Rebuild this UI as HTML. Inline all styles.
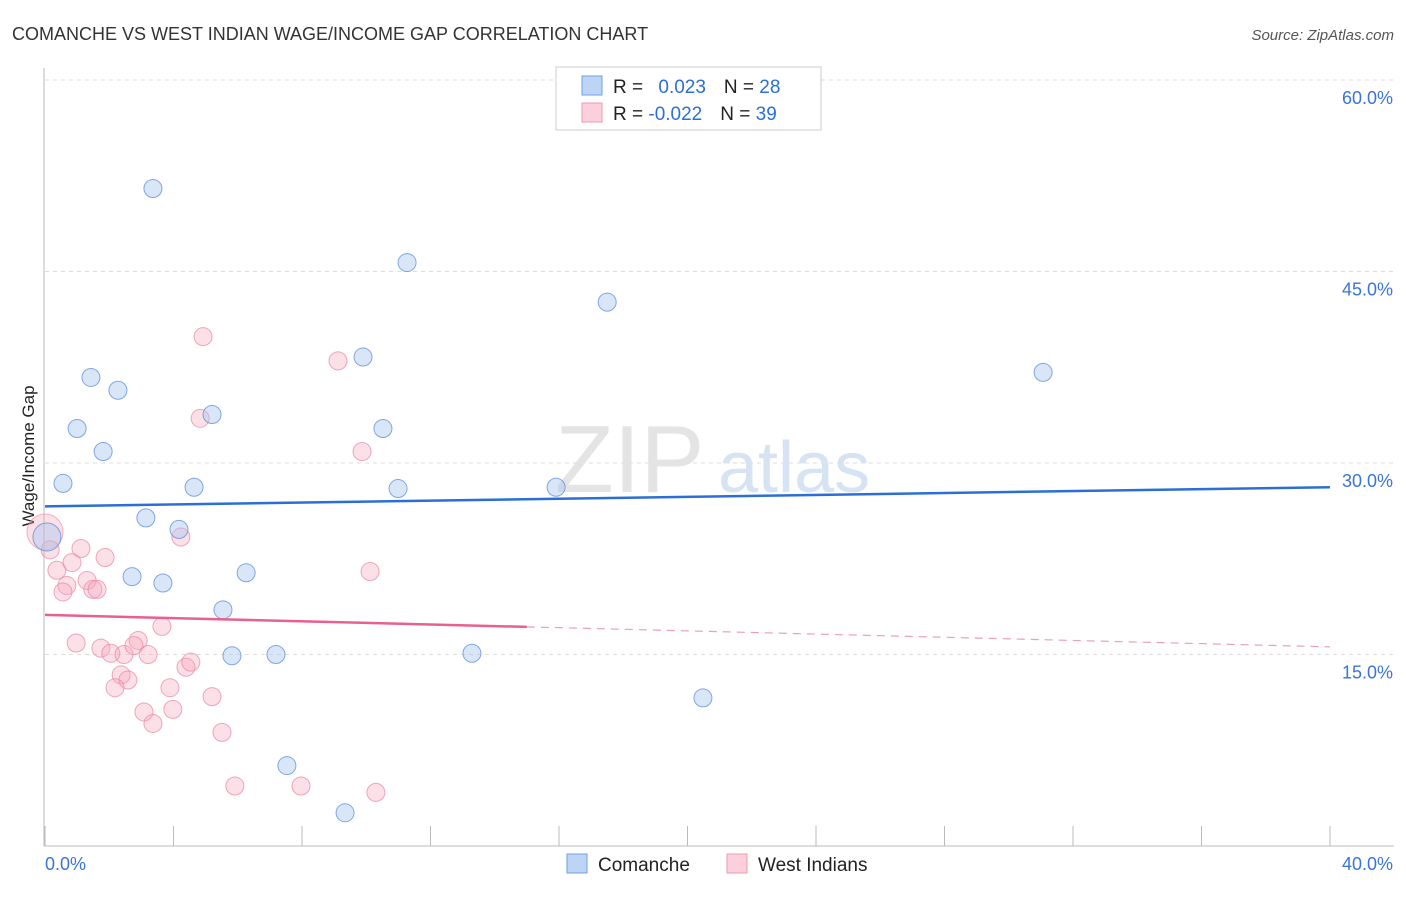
<!DOCTYPE html>
<html><head><meta charset="utf-8"><style>
body{margin:0;background:#fff;font-family:"Liberation Sans",sans-serif}
svg text{font-family:"Liberation Sans",sans-serif}
</style></head><body>
<svg id="chart" width="1406" height="892" viewBox="0 0 1406 892">
<text x="12" y="40" font-size="18" fill="#333">COMANCHE VS WEST INDIAN WAGE/INCOME GAP CORRELATION CHART</text>
<text x="1394" y="40" font-size="15" fill="#555" font-style="italic" text-anchor="end">Source: ZipAtlas.com</text>
<g id="grid"></g>
<g><text x="555" y="492" font-size="96" fill="#e4e4e4" font-family="Liberation Serif">ZIP</text><text x="718" y="492" font-size="72" fill="#d5e3f3">atlas</text></g>
<text x="0" y="0" transform="translate(34,456) rotate(-90)" font-size="17" fill="#222" text-anchor="middle">Wage/Income Gap</text>
<g id="marks"></g>
<g>
<rect x="556" y="67" width="265" height="63" fill="#fff" stroke="#ccc"/>
<rect x="582" y="76" width="20" height="19" fill="#bcd5f5" stroke="#6f9fe0"/>
<rect x="582" y="103" width="20" height="19" fill="#fbd0dc" stroke="#ec9ab3"/>
<text x="613" y="93" font-size="19" fill="#222">R = <tspan fill="#2b6fd6" dx="10">0.023</tspan><tspan fill="#222" dx="18">N = </tspan><tspan fill="#2b6fd6">28</tspan></text>
<text x="613" y="120" font-size="19" fill="#222">R = <tspan fill="#2b6fd6" dx="0">-0.022</tspan><tspan fill="#222" dx="18">N = </tspan><tspan fill="#2b6fd6">39</tspan></text>
</g>
<g>
<rect x="567" y="854" width="20" height="19" fill="#bcd5f5" stroke="#6f9fe0"/>
<text x="598" y="871" font-size="19" fill="#222">Comanche</text>
<rect x="727" y="854" width="20" height="19" fill="#fbd0dc" stroke="#ec9ab3"/>
<text x="758" y="871" font-size="19" fill="#222">West Indians</text>
</g>
</svg>
<script>
const xTicks=[0,40];
const yTicks=[15,30,45,60];
const comancheX=[3.36,11.27,17.50,9.90,31.07,1.43,2.27,5.20,1.00,10.52,1.81,0.56,4.64,10.99,15.91,3.14,4.17,0.06,2.71,3.67,6.26,5.54,5.82,7.19,13.29,20.48,7.53,9.34];
const comancheY=[51.5,45.7,42.6,38.3,37.1,36.7,35.7,33.8,32.7,32.7,30.9,28.4,28.1,28.0,28.1,25.7,24.8,24.2,21.1,20.6,21.4,18.5,14.9,15.0,15.1,11.6,6.3,2.6];
const westX=[4.92,9.12,4.83,9.87,4.23,0,0.16,1.12,1.87,0.37,0.84,1.31,0.68,0.56,1.49,1.62,10.12,3.64,0.97,1.74,2.05,2.46,2.90,2.77,3.21,4.39,4.54,2.37,2.58,2.18,3.89,5.20,3.08,3.98,3.36,5.51,5.91,7.97,10.30];
const westY=[39.9,38.0,33.5,30.9,24.2,24.6,23.2,23.3,22.6,21.6,22.2,20.8,20.4,19.9,20.1,20.1,21.5,17.2,15.9,15.5,15.1,15.0,16.1,15.7,15.0,14.0,14.4,13.4,13.0,12.4,12.4,11.7,10.5,10.7,9.6,8.9,4.7,4.7,4.2];
const comancheTrend=[26.6,28.1];
const westTrend=[18.1,15.6];
const westSolidEnd=15;
const X=v=>45+v/40*1285, Y=v=>846-v/15*191.5;
const NS='http://www.w3.org/2000/svg';
const svg=document.getElementById('chart'),grid=document.getElementById('grid'),marks=document.getElementById('marks');
function mk(tag,attrs,parent){const e=document.createElementNS(NS,tag);for(const k in attrs)e.setAttribute(k,attrs[k]);parent.appendChild(e);return e;}
yTicks.forEach(t=>{
 const l=mk('line',{x1:45,x2:1394,y1:Y(t),y2:Y(t),stroke:'#ddd','stroke-dasharray':'4,4'},grid);
 
 
 const tx=mk('text',{x:1393,y:Y(t)+24,'font-size':18,fill:'#3a74d8','text-anchor':'end'},grid);tx.textContent=t.toFixed(1)+'%';
 
 
});
const ax=mk('line',{x1:44,x2:44,y1:68,y2:846,stroke:'#bbb'},grid);


const bx=mk('line',{x1:44,x2:1394,y1:846,y2:846,stroke:'#bbb'},grid);


for(let i=0;i<=10;i++){const v=i*4;const tk=mk('line',{x1:X(v),x2:X(v),y1:826,y2:846,stroke:'#bbb'},grid);
 
 }
xTicks.forEach((t,i)=>{const tx=mk('text',{x:i?1393:45,y:870,'font-size':18,fill:'#3a74d8','text-anchor':i?'end':'start'},grid);tx.textContent=t.toFixed(1)+'%';
 
 });
// big points
const bp=mk('circle',{cx:X(westX[5]),cy:Y(westY[5]),r:18,fill:'rgba(246,166,190,0.35)',stroke:'rgba(236,130,160,0.6)'},marks);


westX.forEach((x,i)=>{if(i===5)return;const c=mk('circle',{cx:X(x),cy:Y(westY[i]),r:9,fill:'rgba(246,166,190,0.35)',stroke:'rgba(236,130,160,0.7)'},marks);
 
 });
comancheX.forEach((x,i)=>{const c=mk('circle',{cx:X(x),cy:Y(comancheY[i]),r:i===17?14:9,fill:'rgba(170,200,240,0.45)',stroke:'rgba(90,140,220,0.75)'},marks);
 
 });
const ct=mk('line',{x1:X(0),y1:Y(comancheTrend[0]),x2:X(40),y2:Y(comancheTrend[1]),stroke:'#2b6fd6','stroke-width':2.5},marks);


const wy=v=>westTrend[0]+(westTrend[1]-westTrend[0])*v/40;
const wt=mk('line',{x1:X(0),y1:Y(westTrend[0]),x2:X(westSolidEnd),y2:Y(wy(westSolidEnd)),stroke:'#e8608e','stroke-width':2.5},marks);


const wd=mk('line',{x1:X(westSolidEnd),y1:Y(wy(westSolidEnd)),x2:X(40),y2:Y(westTrend[1]),stroke:'#eba0b8','stroke-width':1.2,'stroke-dasharray':'8,6'},marks);


</script>
</body></html>
